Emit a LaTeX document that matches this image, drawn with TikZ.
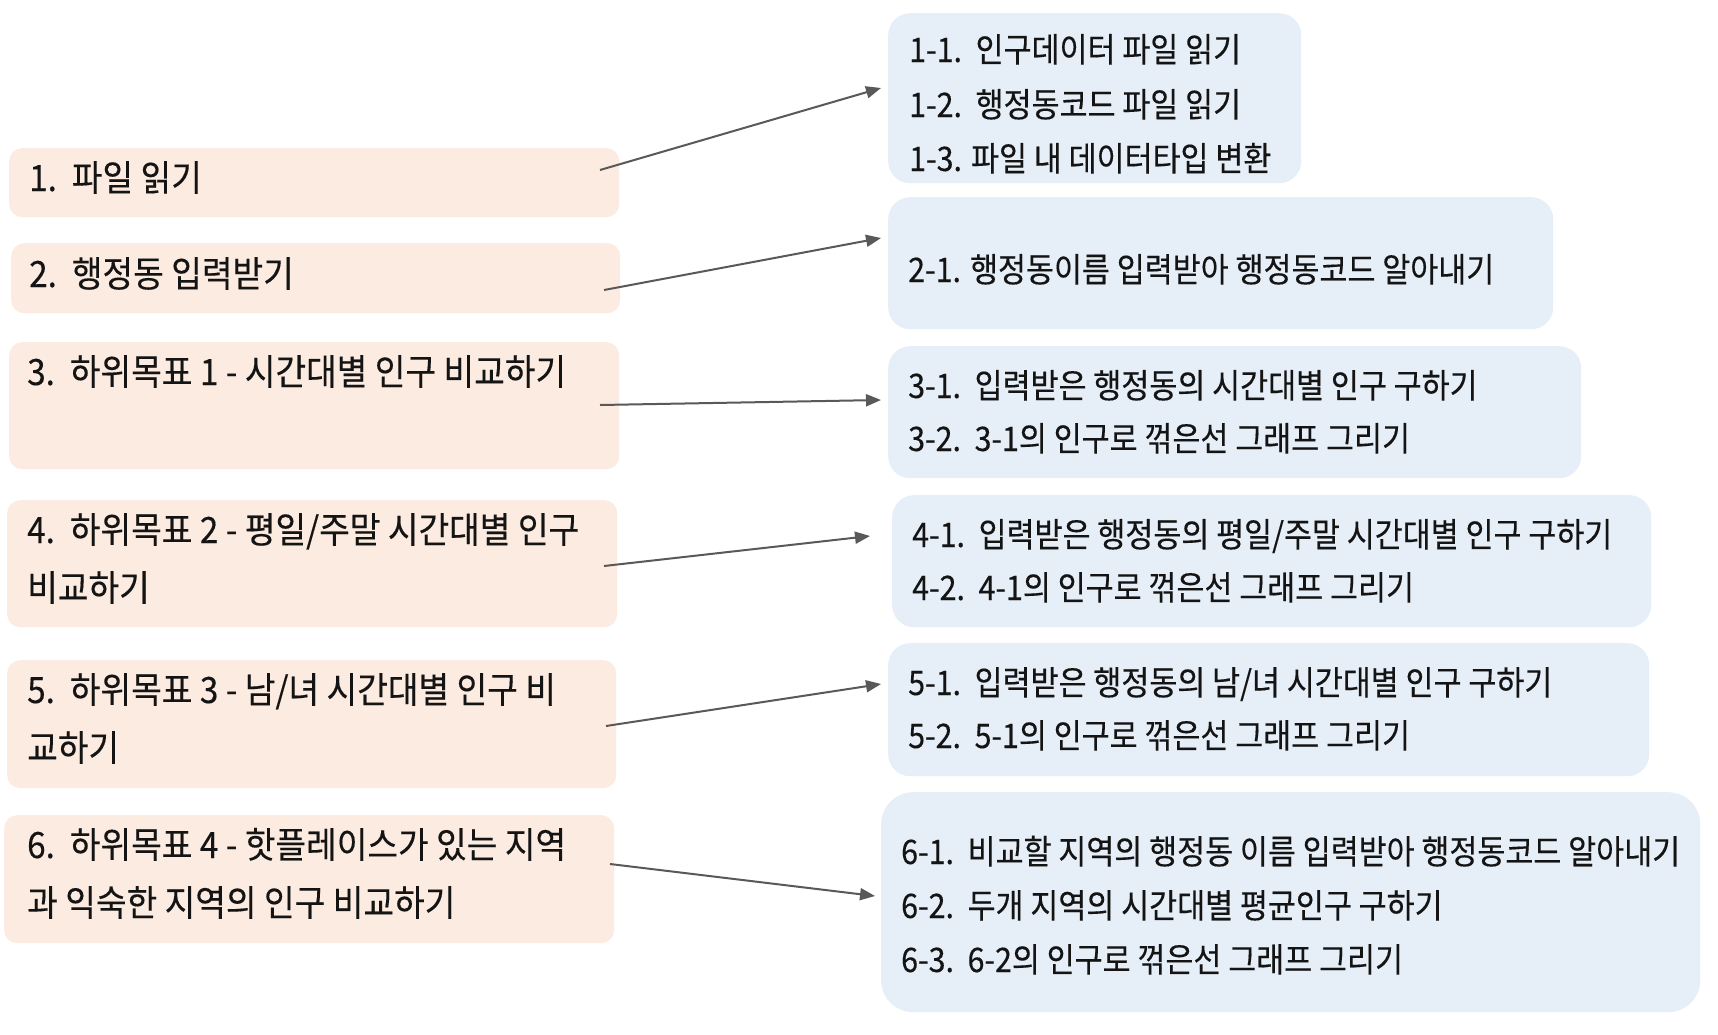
\documentclass[tikz,border=0pt]{standalone}
\usepackage{fontspec}
\setmainfont{Noto Sans CJK KR}
\newfontfamily\leftfont{Noto Sans CJK KR}[FakeStretch=0.92,FakeBold=0.3]
\newfontfamily\rightfont{Noto Sans CJK KR}[FakeStretch=0.9,FakeBold=0.3]
\usetikzlibrary{arrows.meta}
\definecolor{peach}{HTML}{FCEBE1}
\definecolor{lblue}{HTML}{E6EEF8}
\definecolor{arrc}{HTML}{595959}
\definecolor{txtc}{HTML}{141414}
\begin{document}
\begin{tikzpicture}[x=1pt,y=-1pt,
  lbox/.style={fill=peach, draw=none, rounded corners=13pt, inner sep=0pt, anchor=north west},
  rbox/.style={fill=lblue, draw=none, rounded corners=22pt, inner sep=0pt, anchor=north west},
  ltxt/.style={anchor=base west, inner sep=0pt, text=txtc, font=\leftfont\fontsize{36.2}{40}\selectfont},
  rtxt/.style={anchor=base west, inner sep=0pt, text=txtc, font=\rightfont\fontsize{33.8}{40}\selectfont},
  arr/.style={draw=arrc, line width=2pt, -{Triangle[length=15pt,width=12pt]}}]
\useasboundingbox[fill=white] (0,0) rectangle (1718,1034);
% left boxes
\node[lbox, minimum width=610pt, minimum height=69pt] (b1) at (9,148) {};
\node[lbox, minimum width=609pt, minimum height=70pt] (b2) at (11,243) {};
\node[lbox, minimum width=610pt, minimum height=127pt] (b3) at (9,342) {};
\node[lbox, minimum width=610pt, minimum height=127pt] (b4) at (7,500) {};
\node[lbox, minimum width=609pt, minimum height=128pt] (b5) at (7,660) {};
\node[lbox, minimum width=610pt, minimum height=128pt] (b6) at (4,815) {};
% right boxes
\node[rbox, minimum width=413pt, minimum height=170pt] (r1) at (888,13) {};
\node[rbox, minimum width=665pt, minimum height=132pt] (r2) at (888,197) {};
\node[rbox, minimum width=693pt, minimum height=132pt] (r3) at (888,346) {};
\node[rbox, minimum width=759pt, minimum height=132pt] (r4) at (892,495) {};
\node[rbox, minimum width=761pt, minimum height=133pt] (r5) at (888,643) {};
\node[rbox, rounded corners=32pt, minimum width=819pt, minimum height=220pt] (r6) at (881,792) {};
% left texts
\node[ltxt] (t1) at (29,191) {1.~~파일 읽기};
\node[ltxt] (t2) at (29,287) {2.~~행정동 입력받기};
\node[ltxt] (t3) at (27,385) {3.~~하위목표 1 - 시간대별 인구 비교하기};
\node[ltxt] (t4a) at (27,543) {4.~~하위목표 2 - 평일/주말 시간대별 인구};
\node[ltxt] (t4b) at (27,601) {비교하기};
\node[ltxt] (t5a) at (27,703) {5.~~하위목표 3 - 남/녀 시간대별 인구 비};
\node[ltxt] (t5b) at (27,761) {교하기};
\node[ltxt] (t6a) at (27,858) {6.~~하위목표 4 - 핫플레이스가 있는 지역};
\node[ltxt] (t6b) at (27,916) {과 익숙한 지역의 인구 비교하기};
% right texts
\node[rtxt] (s11) at (909,62) {1-1.~~인구데이터 파일 읽기};
\node[rtxt] (s12) at (909,117) {1-2.~~행정동코드 파일 읽기};
\node[rtxt] (s13) at (909,171) {1-3. 파일 내 데이터타입 변환};
\node[rtxt] (s21) at (908,282) {2-1. 행정동이름 입력받아 행정동코드 알아내기};
\node[rtxt] (s31) at (908,398) {3-1.~~입력받은 행정동의 시간대별 인구 구하기};
\node[rtxt] (s32) at (908,451) {3-2.~~3-1의 인구로 꺾은선 그래프 그리기};
\node[rtxt] (s41) at (912,547) {4-1.~~입력받은 행정동의 평일/주말 시간대별 인구 구하기};
\node[rtxt] (s42) at (912,600) {4-2.~~4-1의 인구로 꺾은선 그래프 그리기};
\node[rtxt] (s51) at (908,695) {5-1.~~입력받은 행정동의 남/녀 시간대별 인구 구하기};
\node[rtxt] (s52) at (908,748) {5-2.~~5-1의 인구로 꺾은선 그래프 그리기};
\node[rtxt] (s61) at (901,864) {6-1.~~비교할 지역의 행정동 이름 입력받아 행정동코드 알아내기};
\node[rtxt] (s62) at (901,918) {6-2.~~두개 지역의 시간대별 평균인구 구하기};
\node[rtxt] (s63) at (901,972) {6-3.~~6-2의 인구로 꺾은선 그래프 그리기};
% arrow end points
\coordinate (a1s) at (600,170); \coordinate (a1e) at (881,88);
\coordinate (a2s) at (604,290); \coordinate (a2e) at (881,238);
\coordinate (a3s) at (600,405); \coordinate (a3e) at (881,400);
\coordinate (a4s) at (604,566); \coordinate (a4e) at (870,536);
\coordinate (a5s) at (606,726); \coordinate (a5e) at (881,684);
\coordinate (a6s) at (610,864); \coordinate (a6e) at (875,896);
\draw[arr] (a1s) -- (a1e);
\draw[arr] (a2s) -- (a2e);
\draw[arr] (a3s) -- (a3e);
\draw[arr] (a4s) -- (a4e);
\draw[arr] (a5s) -- (a5e);
\draw[arr] (a6s) -- (a6e);
\end{tikzpicture}
\end{document}
